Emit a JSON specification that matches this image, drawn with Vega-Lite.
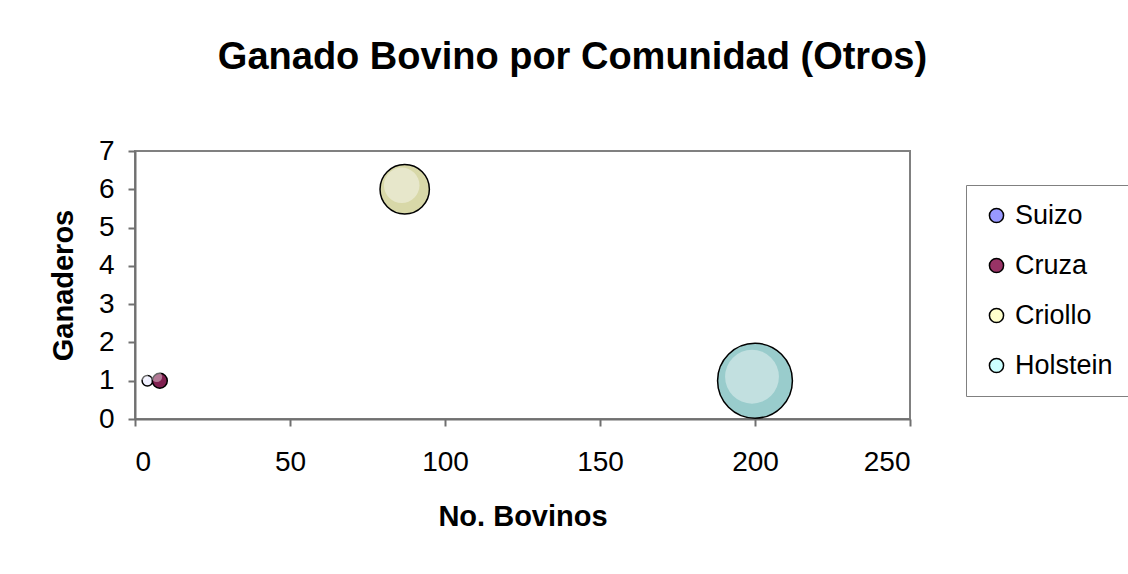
{
  "$schema": "https://vega.github.io/schema/vega-lite/v6.json",
  "width": 775,
  "height": 268,
  "autosize": {"type": "none"},
  "padding": {"left": 135, "top": 151, "right": 218, "bottom": 155},
  "background": "white",
  "title": {
    "text": "Ganado Bovino por Comunidad (Otros)",
    "fontSize": 38,
    "fontWeight": "bold",
    "font": "Liberation Sans",
    "color": "black",
    "anchor": "middle",
    "dx": 50,
    "offset": 60
  },
  "data": {
    "values": [
      {"raza": "Suizo", "bovinos": 4, "ganaderos": 1, "tam": 4},
      {"raza": "Cruza", "bovinos": 8, "ganaderos": 1, "tam": 8},
      {"raza": "Criollo", "bovinos": 87, "ganaderos": 6, "tam": 87},
      {"raza": "Holstein", "bovinos": 200, "ganaderos": 1, "tam": 200}
    ]
  },
  "encoding": {
    "x": {
      "field": "bovinos", "type": "quantitative",
      "scale": {"domain": [0, 250], "nice": false},
      "axis": {"title": "No. Bovinos", "values": [0, 50, 100, 150, 200, 250], "labelPadding": 22, "titlePadding": 26}
    },
    "y": {
      "field": "ganaderos", "type": "quantitative",
      "scale": {"domain": [0, 7], "nice": false},
      "axis": {"title": "Ganaderos", "values": [0, 1, 2, 3, 4, 5, 6, 7], "labelPadding": 14, "titlePadding": 20}
    }
  },
  "layer": [
    {
      "mark": {"type": "circle", "opacity": 1, "stroke": "black", "strokeWidth": 1.5},
      "encoding": {
        "color": {
          "field": "raza", "type": "nominal",
          "scale": {"domain": ["Suizo", "Cruza", "Criollo", "Holstein"], "range": ["#F0F0FF", "#802050", "#D8D8A8", "#99CCCC"]},
          "legend": null
        },
        "size": {
          "field": "tam", "type": "quantitative",
          "scale": {"domain": [0, 200], "range": [0, 5600]},
          "legend": null
        }
      }
    },
    {
      "mark": {"type": "circle", "opacity": 0.4, "color": "white", "xOffset": -3, "yOffset": -4},
      "encoding": {
        "size": {
          "field": "tam", "type": "quantitative",
          "scale": {"domain": [0, 200], "range": [0, 2900]},
          "legend": null
        }
      }
    },
    {
      "mark": {"type": "circle", "opacity": 0},
      "encoding": {
        "color": {
          "field": "raza", "type": "nominal",
          "scale": {"domain": ["Suizo", "Cruza", "Criollo", "Holstein"], "range": ["#9999FF", "#993366", "#FFFFCC", "#CCFFFF"]},
          "legend": {
            "orient": "none",
            "legendX": 831,
            "legendY": 34,
            "title": null,
            "strokeColor": "#808080",
            "padding": 17,
            "rowPadding": 22,
            "symbolType": "circle",
            "symbolSize": 200,
            "symbolOpacity": 1,
            "symbolStrokeColor": "black",
            "symbolStrokeWidth": 1.5,
            "labelFontSize": 27,
            "labelFont": "Liberation Sans",
            "labelColor": "black",
            "labelOffset": 5
          }
        }
      }
    }
  ],
  "resolve": {"scale": {"color": "independent", "size": "independent"}},
  "config": {
    "view": {"stroke": "#808080", "strokeWidth": 2},
    "axis": {
      "grid": false,
      "labelFont": "Liberation Sans",
      "labelFontSize": 28,
      "labelColor": "black",
      "titleFont": "Liberation Sans",
      "titleFontSize": 29,
      "titleFontWeight": "bold",
      "titleColor": "black",
      "domainColor": "#707070",
      "domainWidth": 2,
      "tickColor": "#707070",
      "tickWidth": 2,
      "tickSize": 7
    }
  }
}
